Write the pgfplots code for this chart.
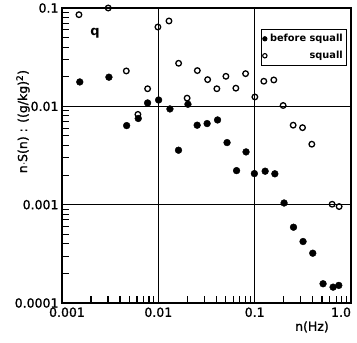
\documentclass[border=0pt]{standalone}
\usepackage{pgfplots}
\pgfplotsset{compat=1.18}
\usepackage{fontspec}
\setmainfont{DejaVu Sans}
\newfontfamily\medfont{DejaVu Sans}[FakeBold=1.2]
\begin{document}
\begin{tikzpicture}
\begin{axis}[
  at={(0pt,0pt)}, anchor=south west,
  scale only axis, width=289pt, height=295pt,
  xmode=log, ymode=log,
  xmin=0.001, xmax=1, ymin=0.0001, ymax=0.1,
  clip=false,
  axis line style={line width=1.4pt},
  xtick={0.001,0.01,0.1,1}, ytick={0.0001,0.001,0.01,0.1},
  xticklabels={\hspace*{10pt}0.001, 0.01, 0.1, \makebox[0pt][r]{1.0}},
  yticklabels={0.0001,0.001,0.01,0.1},
  tick align=inside, xtick pos=bottom, ytick pos=left,
  major tick length=7pt, minor tick length=7pt,
  tick style={black, line width=1.1pt},
  minor tick style={black, line width=1.1pt},
  grid=major, major grid style={black, line width=0.6pt},
  tick label style={font=\medfont\fontsize{12.5}{14}\selectfont},
  xticklabel style={yshift=-1pt},
  legend style={at={(rel axis cs:0.985,0.929)}, anchor=north east,
    draw=black, line width=0.8pt, inner xsep=1.5pt, inner ysep=3pt,
    font=\bfseries\fontsize{9.8}{12}\selectfont,
    /tikz/column sep=1pt, row sep=4pt},
  legend cell align=right,
  legend image code/.code={\draw[#1] plot coordinates {(0pt,0pt)};},
]
\addlegendimage{only marks, mark=*, mark size=2.2pt, black}
\addlegendentry{before squall}
\addlegendimage{only marks, mark=o, mark size=2.2pt, black, mark options={line width=1.1pt}}
\addlegendentry{squall}
\addplot[only marks, mark=*, mark size=3.4pt, black, forget plot] coordinates {
(0.00153,0.0177) (0.00307,0.0198) (0.00469,0.00637) (0.00619,0.00753)
(0.00774,0.01083) (0.01007,0.0116) (0.0132,0.00941) (0.0162,0.00358)
(0.0203,0.0105) (0.0253,0.00643) (0.0321,0.00668) (0.0412,0.00727)
(0.0517,0.00428) (0.0649,0.00222) (0.0814,0.00344) (0.0993,0.00207)
(0.1285,0.00219) (0.162,0.00206) (0.202,0.00104) (0.253,0.00059)
(0.318,0.000422) (0.401,0.000321) (0.513,0.000157) (0.652,0.000145)
(0.747,0.000151)
};
\addplot[only marks, mark=o, mark size=2.8pt, black, mark options={line width=1.3pt}, forget plot] coordinates {
(0.0015,0.0855) (0.00302,0.1) (0.00465,0.0229) (0.00614,0.00828)
(0.00774,0.0151) (0.0099,0.0641) (0.0129,0.0738) (0.01624,0.0274)
(0.0199,0.01212) (0.0254,0.0231) (0.0325,0.0187) (0.0405,0.0151)
(0.0503,0.0202) (0.0638,0.0153) (0.0805,0.0215) (0.1005,0.01246)
(0.1245,0.0180) (0.158,0.01855) (0.1975,0.0102) (0.251,0.00643)
(0.314,0.00607) (0.392,0.00412) (0.637,0.00101) (0.753,0.000957)
};
\node[font=\bfseries\fontsize{13}{15}\selectfont] at (rel axis cs:0.114,0.915) {q};
\node[font=\medfont\fontsize{12.5}{14}\selectfont] at (rel axis cs:0.865,-0.081) {n(Hz)};
\node[rotate=90, font=\medfont\fontsize{12.5}{14}\selectfont] at (rel axis cs:-0.135,0.615) {n$\cdot$S(n) : ((g/kg)\textsuperscript{2})};
\end{axis}
\pgfresetboundingbox
\useasboundingbox (-62pt,-40pt) rectangle (295pt,303pt);
\end{tikzpicture}
\end{document}
